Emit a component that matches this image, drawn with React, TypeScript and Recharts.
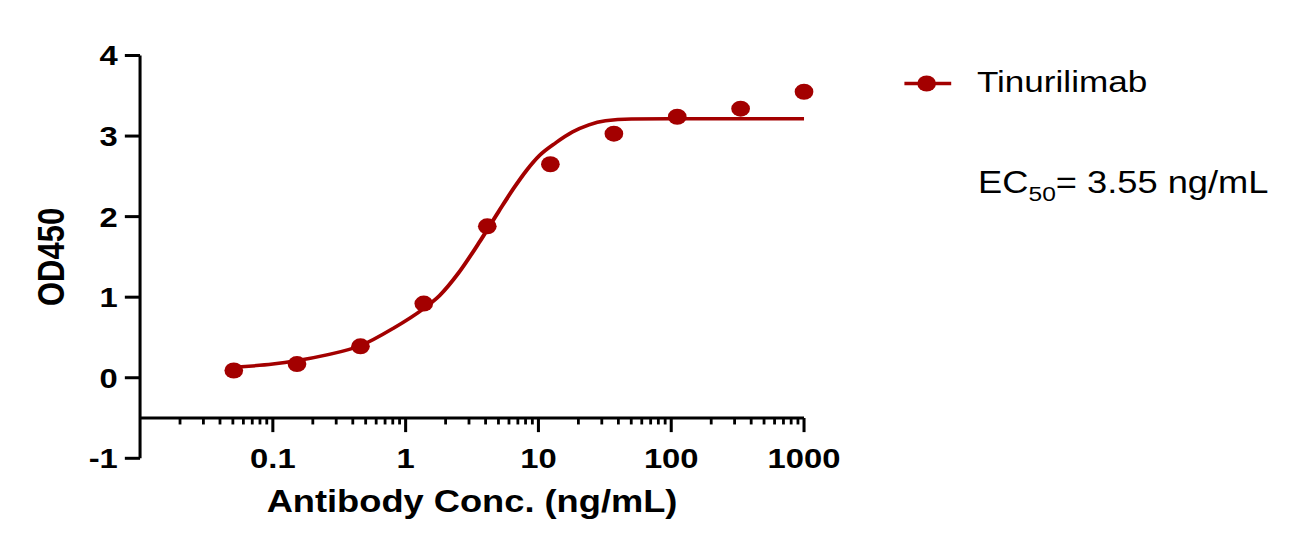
import React from "react";
import {
	ComposedChart,
	Line,
	Scatter,
	XAxis,
	YAxis,
	ReferenceLine,
	Legend,
	Label,
} from "recharts";

// dilution series (ng/mL) and measured OD450
const concentrations = [0.0508, 0.152, 0.457, 1.37, 4.12, 12.3, 37, 111, 333, 1000];
const od450 = [0.09, 0.17, 0.39, 0.92, 1.88, 2.65, 3.03, 3.24, 3.34, 3.55];

// fitted curve
const curveConc = [
	0.05, 0.1, 0.15, 0.25, 0.46, 0.8, 1.37, 1.8, 2.5, 3.55, 5, 6.5, 8.1, 10.2,
	13.6, 18, 24, 32, 50, 100, 1000,
];
const curveOd = [
	0.13, 0.17, 0.21, 0.28, 0.4, 0.61, 0.86, 1.02, 1.3, 1.67, 2.06, 2.35, 2.57,
	2.76, 2.92, 3.05, 3.14, 3.19, 3.212, 3.215, 3.215,
];

const seriesName = "Tinurilimab";
const ec50Value = "3.55 ng/mL";

const xMajorTicks = [0.1, 1, 10, 100, 1000];
const decades = [0.01, 0.1, 1, 10, 100];
const minorSteps = [2, 3, 4, 5, 6, 7, 8, 9];
const yTicks = [-1, 0, 1, 2, 3, 4];

const xAxisAt = -0.5;

const RED = "#a30000";
const FONT = '"Liberation Sans", Arial, sans-serif';

// picture is horizontally stretched, so draw narrow and scale
const STRETCH = 1.17;
const W = 1117;
const H = 550;

const points = concentrations.map((x, i) => ({ x, y: od450[i] }));
const curve = curveConc.map((x, i) => ({ x, y: curveOd[i] }));
const minorTicks = decades.flatMap((d) => minorSteps.map((s) => +(d * s).toPrecision(3)));

const Dot = (props: any) => <circle cx={props.cx} cy={props.cy} r={8} fill={RED} />;

const renderLegend = (props: any) => {
	const items = (props.payload || []).filter((p: any) => p.value === seriesName);
	return (
		<svg width={350} height={160} style={{ fontFamily: FONT, overflow: "visible" }}>
			{items.map((entry: any) => (
				<g key={entry.value}>
					<line x1={8} x2={48} y1={28.5} y2={28.5} stroke={RED} strokeWidth={3.5} />
					<circle cx={27} cy={28.5} r={8} fill={RED} />
					<text x={70} y={37} fontSize={30} fill="#000">
						{entry.value}
					</text>
				</g>
			))}
			<text x={71} y={138} fontSize={31} fill="#000">
				EC
				<tspan fontSize={21} dy={8}>
					50
				</tspan>
				<tspan dy={-8}>= {ec50Value}</tspan>
			</text>
		</svg>
	);
};

const YTitle = (props: any) => {
	const vb = props.viewBox;
	const cy = vb.y + vb.height / 2;
	return (
		<text
			x={55}
			y={cy}
			transform={`rotate(-90, 55, ${cy})`}
			textAnchor="middle"
			fontSize={31}
			fontWeight="bold"
			fill="#000"
			fontFamily={FONT}
		>
			OD450
		</text>
	);
};

const XTitle = (props: any) => {
	const vb = props.viewBox;
	return (
		<text
			x={vb.x + vb.width / 2}
			y={vb.y + 54}
			textAnchor="middle"
			fontSize={31}
			fontWeight="bold"
			fill="#000"
			fontFamily={FONT}
		>
			Antibody Conc. (ng/mL)
		</text>
	);
};

const App: React.FC = () => {
	return (
		<div
			style={{
				position: "absolute",
				left: 0,
				top: 0,
				width: W,
				height: H,
				transform: `scaleX(${STRETCH})`,
				transformOrigin: "0 0",
				fontFamily: FONT,
				background: "#fff",
			}}
		>
			<ComposedChart
				width={W}
				height={H}
				margin={{ top: 55.5, right: 429.8, bottom: 21.7, left: 20 }}
			>
				<XAxis
					dataKey="x"
					type="number"
					scale="log"
					domain={[0.01, 1000]}
					ticks={xMajorTicks}
					interval={0}
					height={70}
					axisLine={false}
					tickLine={false}
					tickSize={0}
					tickMargin={-10}
					tick={{ fill: "#000", fontSize: 28, fontWeight: "bold" }}
					tickFormatter={(v: number) => String(v)}
				>
					<Label content={<XTitle />} />
				</XAxis>
				<YAxis
					type="number"
					domain={[-1, 4]}
					ticks={yTicks}
					interval={0}
					width={99.7}
					axisLine={{ stroke: "#000", strokeWidth: 2.6 }}
					tickLine={{ stroke: "#000", strokeWidth: 3 }}
					tickSize={13}
					tickMargin={6}
					tick={{ fill: "#000", fontSize: 28, fontWeight: "bold" }}
				>
					<Label content={<YTitle />} />
				</YAxis>

				{/* x axis drawn at y = -0.5 */}
				<ReferenceLine y={xAxisAt} stroke="#000" strokeWidth={3.2} />
				{xMajorTicks.map((t) => (
					<ReferenceLine
						key={`maj-${t}`}
						segment={[
							{ x: t, y: xAxisAt },
							{ x: t, y: xAxisAt - 0.175 },
						]}
						stroke="#000"
						strokeWidth={2.6}
					/>
				))}
				{minorTicks.map((t) => (
					<ReferenceLine
						key={`min-${t}`}
						segment={[
							{ x: t, y: xAxisAt },
							{ x: t, y: xAxisAt - 0.08 },
						]}
						stroke="#000"
						strokeWidth={2.4}
					/>
				))}

				<Line
					data={curve}
					dataKey="y"
					name={seriesName}
					type="monotone"
					stroke={RED}
					strokeWidth={3.5}
					dot={false}
					activeDot={false}
					isAnimationActive={false}
				/>
				<Scatter
					data={points}
					dataKey="y"
					name="points"
					fill={RED}
					shape={<Dot />}
					legendType="none"
					isAnimationActive={false}
				/>

				<Legend
					layout="vertical"
					align="center"
					verticalAlign="middle"
					wrapperStyle={{ left: 765, top: 55, width: 350 }}
					content={renderLegend}
				/>
			</ComposedChart>
		</div>
	);
};

export default App;
